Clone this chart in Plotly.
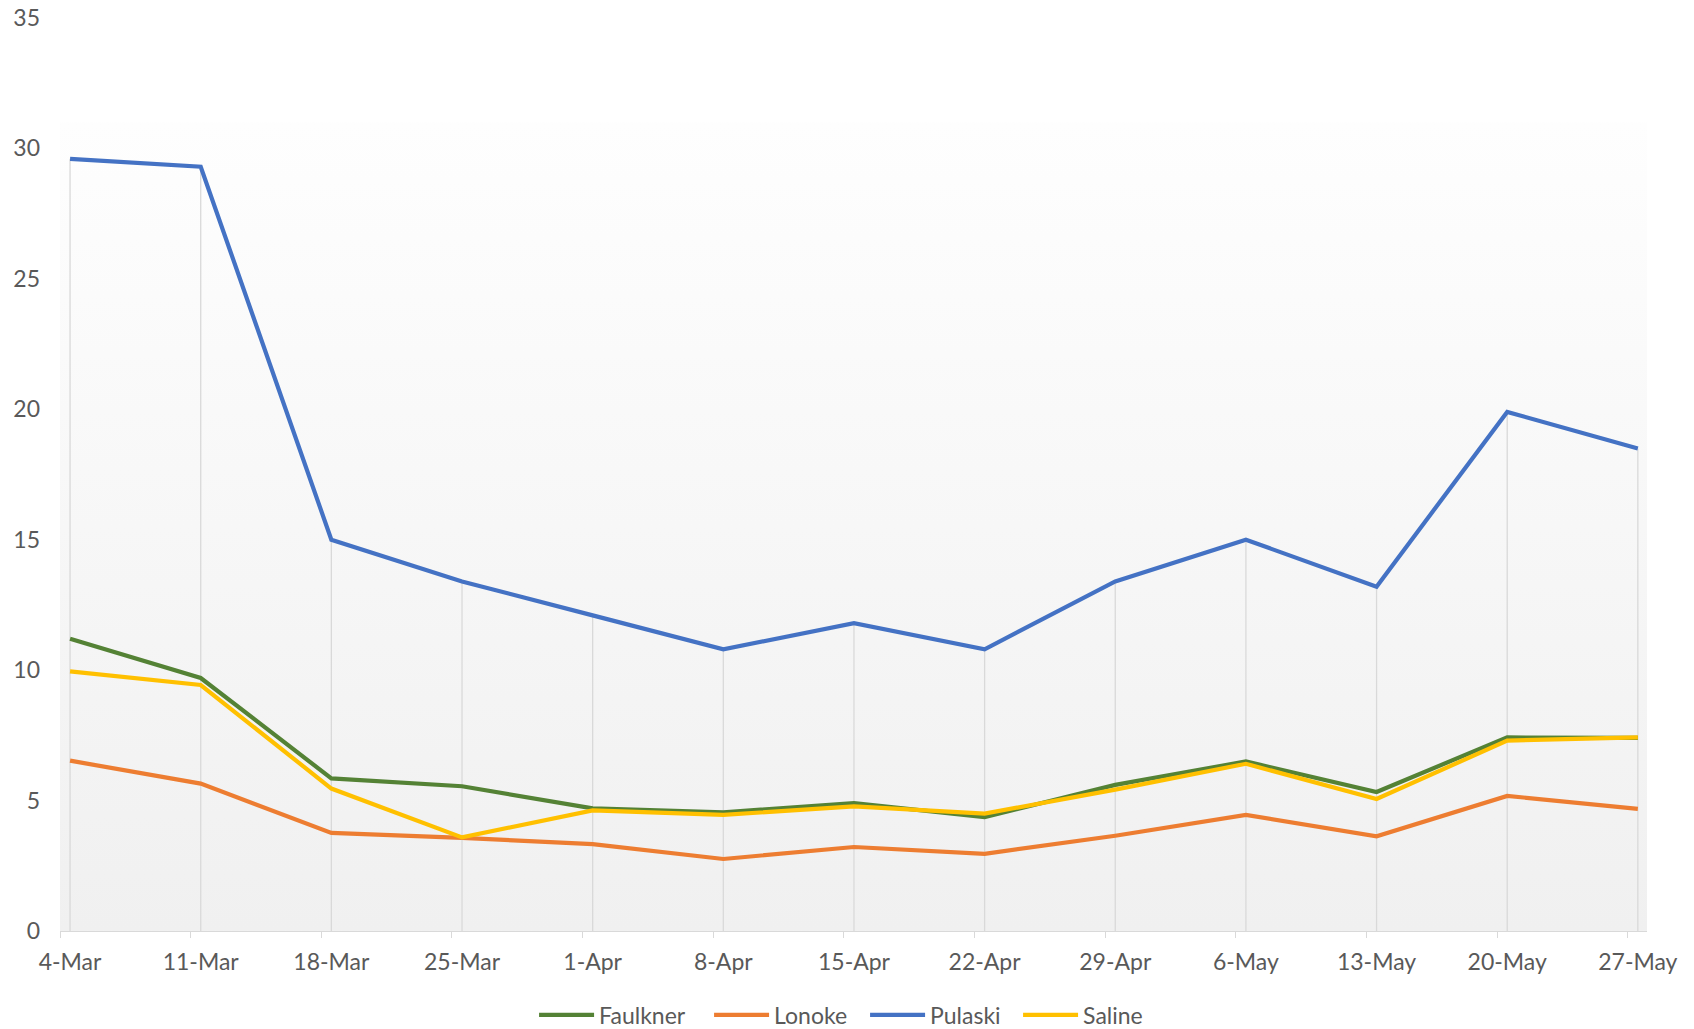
import plotly.graph_objects as go

categories = ["4-Mar", "11-Mar", "18-Mar", "25-Mar", "1-Apr", "8-Apr", "15-Apr",
              "22-Apr", "29-Apr", "6-May", "13-May", "20-May", "27-May"]
faulkner = [11.2, 9.7, 5.85, 5.55, 4.7, 4.55, 4.9, 4.37, 5.6, 6.5, 5.33, 7.42, 7.4]
lonoke = [6.53, 5.65, 3.76, 3.57, 3.33, 2.76, 3.22, 2.96, 3.65, 4.45, 3.63, 5.18, 4.68]
pulaski = [29.6, 29.3, 15.0, 13.4, 12.1, 10.8, 11.8, 10.8, 13.4, 15.0, 13.2, 19.9, 18.5]
saline = [9.95, 9.43, 5.46, 3.59, 4.62, 4.45, 4.78, 4.5, 5.42, 6.41, 5.06, 7.3, 7.42]
y_ticks = [0, 5, 10, 15, 20, 25, 30, 35]

series = [
    ("Faulkner", faulkner, "#548235", 105),
    ("Lonoke", lonoke, "#ED7D31", 86),
    ("Pulaski", pulaski, "#4472C4", 83),
    ("Saline", saline, "#FFC000", 60),
]

FONT = "Lato, 'Open Sans', sans-serif"
TXT = "#595959"
n = len(categories)
idx = list(range(n))
x_lo, x_hi = -0.077, n - 1 + 0.07
bg_top = 31.0

fig = go.Figure()

# plot-area gradient background
fig.add_trace(go.Scatter(
    x=[x_lo, x_hi, x_hi, x_lo, x_lo], y=[0, 0, bg_top, bg_top, 0],
    mode="lines", line=dict(width=0), fill="toself",
    fillgradient=dict(type="vertical", colorscale=[[0, "#f0f0f0"], [1, "#fefefe"]]),
    hoverinfo="skip", showlegend=False))

# drop lines from highest series to axis
all_vals = [faulkner, lonoke, pulaski, saline]
dx, dy = [], []
for i in idx:
    top = max(v[i] for v in all_vals)
    dx += [i, i, None]
    dy += [0, top, None]
fig.add_trace(go.Scatter(x=dx, y=dy, mode="lines",
                         line=dict(color="#d9d9d9", width=1.3),
                         hoverinfo="skip", showlegend=False))

for name, vals, color, lw in series:
    fig.add_trace(go.Scatter(x=idx, y=vals, name=name, mode="lines",
                             legendwidth=lw,
                             line=dict(color=color, width=4.2)))

fig.update_layout(
    width=1694, height=1029,
    margin=dict(l=60, r=47, t=18, b=98, autoexpand=False),
    paper_bgcolor="white", plot_bgcolor="white",
    font=dict(family=FONT, size=23, color=TXT),
    showlegend=True,
    legend=dict(orientation="h", xref="container", yref="container",
                x=0.4965, xanchor="center", y=1 - 1015 / 1029, yanchor="middle",
                itemwidth=55,
                font=dict(size=23, color=TXT), tracegroupgap=0),
    hovermode=False,
)
fig.update_xaxes(
    range=[x_lo, x_hi], tickvals=idx, ticktext=categories, automargin=False,
    showgrid=False, zeroline=False, showline=True, linecolor="#d9d9d9", linewidth=1.3,
    ticks="", ticklabelstandoff=10,
    minor=dict(tick0=x_lo, dtick=1, ticks="outside", ticklen=6, tickcolor="#d9d9d9",
               tickwidth=1.3, showgrid=False),
)
fig.update_yaxes(
    range=[0, 35], tickvals=y_ticks, showgrid=False, zeroline=False, showline=False,
    ticks="", ticklabelstandoff=19, automargin=False,
)

fig.write_html("out.html", config={"displayModeBar": False},
               post_script="document.body.style.margin='0px';document.body.style.overflow='hidden';")
